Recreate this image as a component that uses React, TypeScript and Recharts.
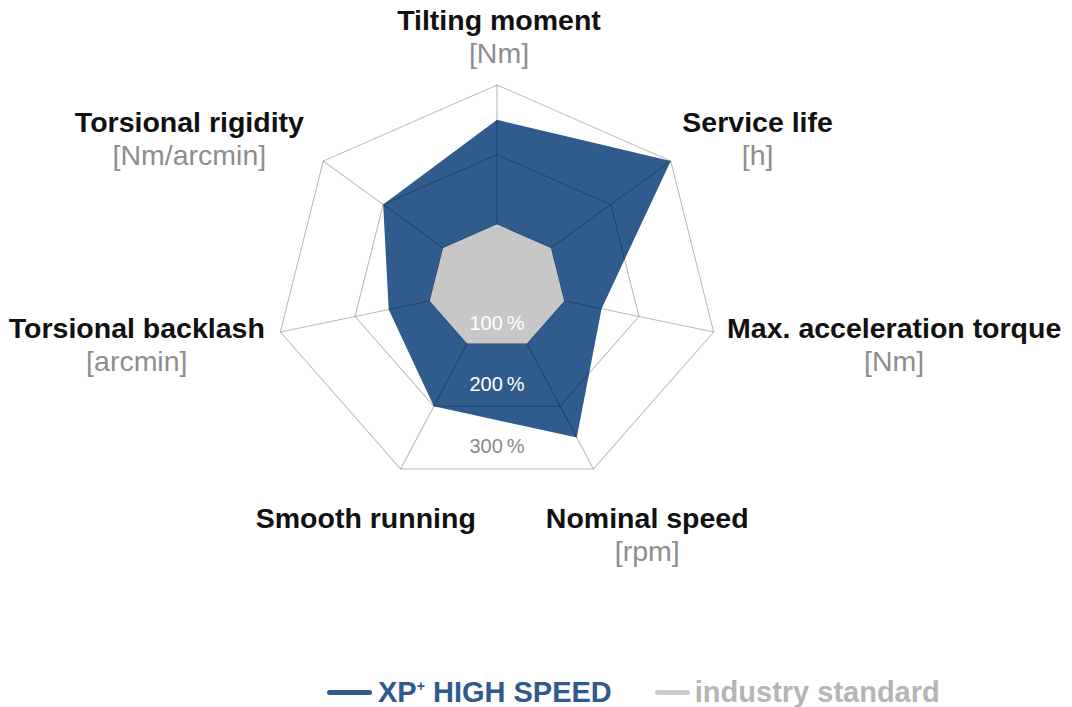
import React from "react";
import {
  RadarChart,
  Radar,
  PolarGrid,
  PolarAngleAxis,
  PolarRadiusAxis,
} from "recharts";

// axes, clockwise from the top
const CATEGORIES = [
  "Tilting moment",
  "Service life",
  "Max. acceleration torque",
  "Nominal speed",
  "Smooth running",
  "Torsional backlash",
  "Torsional rigidity",
];
const UNITS = ["[Nm]", "[h]", "[Nm]", "[rpm]", "", "[arcmin]", "[Nm/arcmin]"];

const XP_VALUES = [250, 300, 150, 250, 200, 155, 200];
const STD_VALUES = [100, 100, 100, 100, 100, 100, 100];

const RADIUS_TICKS = [100, 200, 300];
const SERIES_NAMES = ["XP+ HIGH SPEED", "industry standard"];

const BLUE = "#305c8d";
const GREY = "#c6c7c6";
const FONT = "'Liberation Sans', Arial, Helvetica, sans-serif";

const W = 1056;
const H = 672;
const CX = 489;
const CY = 287;
const R = 202;
const SX = 1.1; // the original polygon is a bit wider than tall

// label placement around each vertex (screen px, relative to the tick point)
const LABEL_OFFSETS: [number, number][] = [
  [2, -47],
  [80, -24],
  [172, 4],
  [50, 52],
  [-31, 52],
  [-135, 4],
  [-127, -24],
];

const data = CATEGORIES.map((name, i) => ({
  name,
  xp: XP_VALUES[i],
  std: STD_VALUES[i],
}));

const AngleTick = (props: any) => {
  const { x, y, payload } = props;
  const i = CATEGORIES.indexOf(payload.value);
  const [dx, dy] = LABEL_OFFSETS[i] || [0, 0];
  return (
    <g transform={`translate(${x},${y}) scale(${1 / SX},1)`}>
      <text
        x={dx}
        y={dy}
        textAnchor="middle"
        fontFamily={FONT}
        fontWeight={700}
        fontSize={28.5}
        fill="#111"
      >
        {payload.value}
      </text>
      {UNITS[i] ? (
        <text
          x={dx}
          y={dy + 33}
          textAnchor="middle"
          fontFamily={FONT}
          fontSize={28.5}
          fill="#8e8e8e"
        >
          {UNITS[i]}
        </text>
      ) : null}
    </g>
  );
};

const RadiusTick = (props: any) => {
  const { x, y, payload } = props;
  const r = y - CY;
  const color = payload.value >= 300 ? "#8a8a8a" : "#ffffff";
  return (
    <g transform={`translate(${x},${y}) scale(${1 / SX},1)`}>
      <text
        x={0}
        y={-(0.12 * r + 12)}
        textAnchor="middle"
        fontFamily={FONT}
        fontSize={20}
        fill={color}
      >
        {`${payload.value}\u202f%`}
      </text>
    </g>
  );
};

const LegendItem = ({
  name,
  color,
  textColor,
  lineWidth,
  gap,
}: {
  name: string;
  color: string;
  textColor: string;
  lineWidth: number;
  gap: number;
}) => {
  const parts = name.split("+");
  return (
    <div style={{ display: "flex", alignItems: "center", marginRight: 43 }}>
      <div style={{ width: lineWidth, height: 5, borderRadius: 3, background: color, marginRight: gap }} />
      <span style={{ color: textColor, fontFamily: FONT, fontWeight: 700, fontSize: 29, whiteSpace: "nowrap" }}>
        {parts[0]}
        {parts.length > 1 ? (
          <>
            <sup style={{ fontSize: 14, verticalAlign: "11px" }}>+</sup>
            {parts[1]}
          </>
        ) : null}
      </span>
    </div>
  );
};

export default function App() {
  return (
    <div style={{ width: W, height: H + 40, position: "relative", marginTop: -8 }}>
      <div style={{ width: W, height: H, transform: `scaleX(${SX})`, transformOrigin: `${CX}px 0px` }}>
        <RadarChart
          width={W}
          height={H}
          data={data}
          cx={CX}
          cy={CY}
          outerRadius={R}
          startAngle={90}
          endAngle={-270}
          margin={{ top: 0, right: 0, bottom: 0, left: 0 }}
        >
          <Radar
            name={SERIES_NAMES[0]}
            dataKey="xp"
            stroke="none"
            fill={BLUE}
            fillOpacity={1}
            isAnimationActive={false}
            {...({ zIndex: 100 } as any)}
          />
          <PolarGrid stroke="rgba(0,0,0,0.27)" strokeWidth={1} {...({ zIndex: 150 } as any)} />
          <Radar
            name={SERIES_NAMES[1]}
            dataKey="std"
            stroke="none"
            fill={GREY}
            fillOpacity={1}
            isAnimationActive={false}
            {...({ zIndex: 200 } as any)}
          />
          <PolarAngleAxis
            dataKey="name"
            tick={<AngleTick />}
            tickLine={false}
            axisLine={false}
          />
          <PolarRadiusAxis
            angle={-90}
            domain={[10, 300]}
            ticks={RADIUS_TICKS as any}
            tick={<RadiusTick />}
            tickLine={false}
            axisLine={false}
            type="number"
            {...({ zIndex: 600 } as any)}
          />
        </RadarChart>
      </div>
      <div style={{ position: "absolute", left: 319, top: H, height: 40, display: "flex", alignItems: "center" }}>
        <LegendItem name={SERIES_NAMES[0]} color={BLUE} textColor="#2f5a8b" lineWidth={45} gap={6} />
        <LegendItem name={SERIES_NAMES[1]} color="#cacaca" textColor="#b5b5b5" lineWidth={35} gap={5} />
      </div>
    </div>
  );
}
